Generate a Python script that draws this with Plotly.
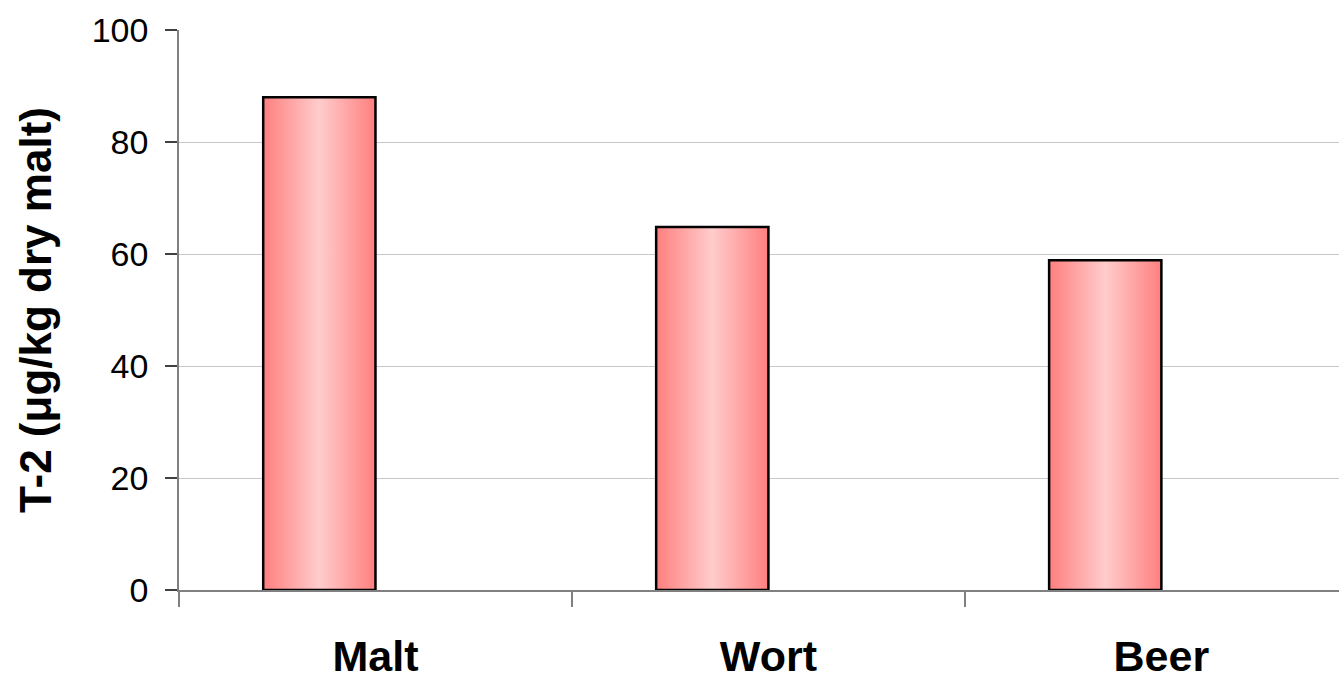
import plotly.graph_objects as go

# T-2 toxin levels through the brewing process
categories = ["Malt", "Wort", "Beer"]
t2_values = [88.0, 64.8, 58.9]
y_ticks = [0, 20, 40, 60, 80, 100]

BAR_WIDTH = 0.2857  # bar occupies the left slot of each category group

fig = go.Figure()
for i, (name, val) in enumerate(zip(categories, t2_values)):
    x0, x1 = i - BAR_WIDTH, i
    fig.add_trace(go.Scatter(
        x=[x0, x0, x1, x1, x0],
        y=[0, val, val, 0, 0],
        mode="lines",
        fill="toself",
        fillgradient=dict(
            type="horizontal",
            colorscale=[[0, "#FF7F7F"], [0.5, "#FFCCCC"], [1, "#FF7F7F"]],
        ),
        line=dict(color="#000000", width=2.5),
        name=name,
        hoverinfo="skip",
        showlegend=False,
    ))

fig.update_layout(
    width=1339,
    height=681,
    margin=dict(l=179, r=0, t=30, b=91),
    paper_bgcolor="white",
    plot_bgcolor="white",
    font=dict(family="Liberation Sans, Arial, sans-serif", color="black"),
)

fig.update_xaxes(
    automargin=False,
    range=[-0.5, 2.452],
    tickmode="array",
    tickvals=list(range(len(categories))),
    ticktext=categories,
    ticks="",
    ticklabelstandoff=28,
    tickfont=dict(size=43, family="Liberation Sans, Arial, sans-serif", weight="bold"),
    showgrid=False,
    zeroline=False,
    showline=True,
    linecolor="#808080",
    linewidth=1.5,
    minor=dict(
        tickmode="array",
        tickvals=[-0.5, 0.5, 1.5],
        ticks="outside",
        ticklen=15,
        tickwidth=1.5,
        tickcolor="#808080",
        showgrid=False,
    ),
)

fig.update_yaxes(
    automargin=False,
    range=[0, 100],
    tickmode="array",
    tickvals=y_ticks,
    ticks="outside",
    ticklen=12,
    tickwidth=1.5,
    tickcolor="#404040",
    ticklabelstandoff=10,
    tickfont=dict(size=34, family="Liberation Sans, Arial, sans-serif"),
    showgrid=True,
    gridcolor="#C8C8C8",
    gridwidth=1,
    zeroline=False,
    showline=True,
    linecolor="#808080",
    linewidth=1.5,
    title=dict(
        text="T-2 (μg/kg dry malt)",
        font=dict(size=44, family="Liberation Sans, Arial, sans-serif", weight="bold"),
        standoff=26,
    ),
)

fig.write_html("out.html")
